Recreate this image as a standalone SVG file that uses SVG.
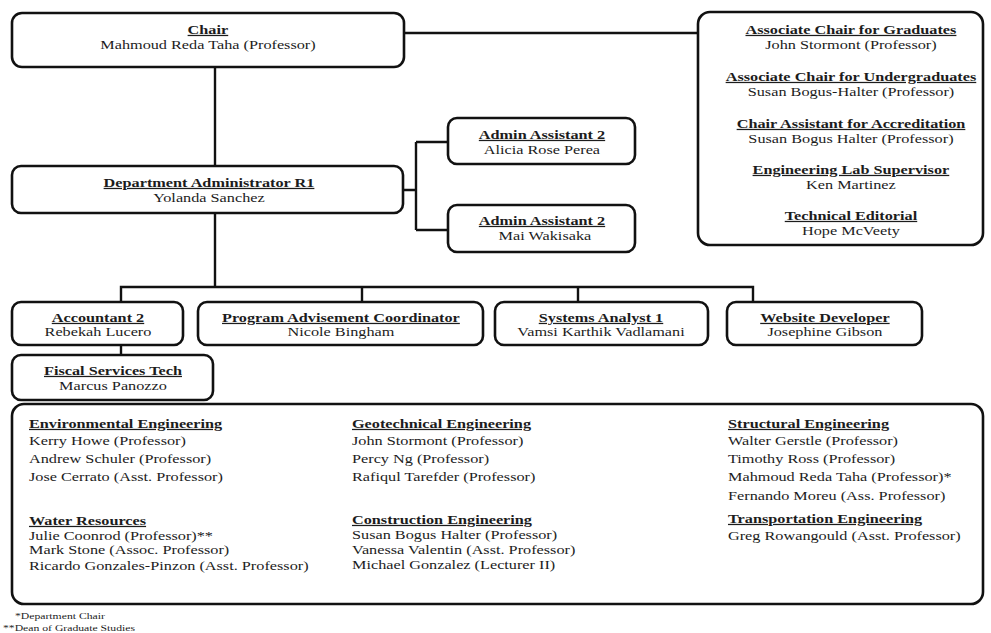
<svg xmlns="http://www.w3.org/2000/svg" width="991" height="633" viewBox="0 0 991 633">
<style>
  .box { fill: #ffffff; stroke: #111111; stroke-width: 2.6; }
  .conn { fill: none; stroke: #111111; stroke-width: 2.4; }
  .t { font-family: "Liberation Serif", "Times New Roman", serif; font-size: 12.5px; fill: #1c1c1c; transform-box: fill-box; transform: scaleX(1.3); }
  .c { text-anchor: middle; transform-origin: center; }
  .l { text-anchor: start; transform-origin: left; }
  .b { font-weight: bold; text-decoration: underline; }
  .fn { font-size: 9px; }
</style>
<rect x="0" y="0" width="991" height="633" fill="#ffffff"/>

<g id="connectors">
  <path class="conn" d="M404,33 H698"/>
  <path class="conn" d="M215,67 V166"/>
  <path class="conn" d="M403,190 H416 M416,142 V230 M416,142 H448 M416,230 H448"/>
  <path class="conn" d="M215,213 V287 M121,302 V287 H753 V302 M362,287 V302 M578,287 V302"/>
  <path class="conn" d="M121,345 V355"/>
</g>

<g id="chair">
  <rect class="box" x="12" y="13" width="392" height="54" rx="10"/>
  <text class="t c b" x="208" y="34">Chair</text>
  <text class="t c" x="208" y="49">Mahmoud Reda Taha (Professor)</text>
</g>

<g id="associates">
  <rect class="box" x="698" y="12" width="285" height="233" rx="12"/>
  <text class="t c b" x="851" y="34">Associate Chair for Graduates</text>
  <text class="t c" x="851" y="49">John Stormont (Professor)</text>
  <text class="t c b" x="851" y="81">Associate Chair for Undergraduates</text>
  <text class="t c" x="851" y="96">Susan Bogus-Halter (Professor)</text>
  <text class="t c b" x="851" y="128">Chair Assistant for Accreditation</text>
  <text class="t c" x="851" y="143">Susan Bogus Halter (Professor)</text>
  <text class="t c b" x="851" y="174">Engineering Lab Supervisor</text>
  <text class="t c" x="851" y="189">Ken Martinez</text>
  <text class="t c b" x="851" y="220">Technical Editorial</text>
  <text class="t c" x="851" y="235">Hope McVeety</text>
</g>

<g id="dept-admin">
  <rect class="box" x="12" y="166" width="391" height="47" rx="9"/>
  <text class="t c b" x="209" y="187">Department Administrator R1</text>
  <text class="t c" x="209" y="202">Yolanda Sanchez</text>
</g>

<g id="admin-assistant-1">
  <rect class="box" x="448" y="118" width="187" height="46" rx="9"/>
  <text class="t c b" x="542" y="139">Admin Assistant 2</text>
  <text class="t c" x="542" y="154">Alicia Rose Perea</text>
</g>

<g id="admin-assistant-2">
  <rect class="box" x="448" y="205" width="187" height="47" rx="9"/>
  <text class="t c b" x="542" y="225">Admin Assistant 2</text>
  <text class="t c" x="545" y="240">Mai Wakisaka</text>
</g>

<g id="accountant">
  <rect class="box" x="12" y="302" width="171" height="43" rx="9"/>
  <text class="t c b" x="98" y="322">Accountant 2</text>
  <text class="t c" x="98" y="336">Rebekah Lucero</text>
</g>

<g id="program-advisement">
  <rect class="box" x="198" y="302" width="285" height="43" rx="9"/>
  <text class="t c b" x="341" y="322">Program Advisement Coordinator</text>
  <text class="t c" x="341" y="336">Nicole Bingham</text>
</g>

<g id="systems-analyst">
  <rect class="box" x="495" y="302" width="213" height="43" rx="9"/>
  <text class="t c b" x="601" y="322">Systems Analyst 1</text>
  <text class="t c" x="601" y="336">Vamsi Karthik Vadlamani</text>
</g>

<g id="website-developer">
  <rect class="box" x="727" y="302" width="195" height="43" rx="9"/>
  <text class="t c b" x="825" y="322">Website Developer</text>
  <text class="t c" x="825" y="336">Josephine Gibson</text>
</g>

<g id="fiscal-services">
  <rect class="box" x="12" y="355" width="201" height="45" rx="9"/>
  <text class="t c b" x="113" y="375">Fiscal Services Tech</text>
  <text class="t c" x="113" y="390">Marcus Panozzo</text>
</g>

<g id="faculty">
  <rect class="box" x="12" y="404" width="971" height="200" rx="12"/>
  <text class="t l b" x="29" y="428">Environmental Engineering</text>
  <text class="t l" x="29" y="445">Kerry Howe (Professor)</text>
  <text class="t l" x="29" y="463">Andrew Schuler (Professor)</text>
  <text class="t l" x="29" y="481">Jose Cerrato (Asst. Professor)</text>
  <text class="t l b" x="29" y="525">Water Resources</text>
  <text class="t l" x="29" y="540">Julie Coonrod (Professor)**</text>
  <text class="t l" x="29" y="554">Mark Stone (Assoc. Professor)</text>
  <text class="t l" x="29" y="570">Ricardo Gonzales-Pinzon (Asst. Professor)</text>

  <text class="t l b" x="352" y="428">Geotechnical Engineering</text>
  <text class="t l" x="352" y="445">John Stormont (Professor)</text>
  <text class="t l" x="352" y="463">Percy Ng (Professor)</text>
  <text class="t l" x="352" y="481">Rafiqul Tarefder (Professor)</text>
  <text class="t l b" x="352" y="524">Construction Engineering</text>
  <text class="t l" x="352" y="539">Susan Bogus Halter (Professor)</text>
  <text class="t l" x="352" y="554">Vanessa Valentin (Asst. Professor)</text>
  <text class="t l" x="352" y="569">Michael Gonzalez (Lecturer II)</text>

  <text class="t l b" x="728" y="428">Structural Engineering</text>
  <text class="t l" x="728" y="445">Walter Gerstle (Professor)</text>
  <text class="t l" x="728" y="463">Timothy Ross (Professor)</text>
  <text class="t l" x="728" y="481">Mahmoud Reda Taha (Professor)*</text>
  <text class="t l" x="728" y="500">Fernando Moreu (Ass. Professor)</text>
  <text class="t l b" x="728" y="523">Transportation Engineering</text>
  <text class="t l" x="728" y="540">Greg Rowangould (Asst. Professor)</text>
</g>

<g id="footnotes">
  <text class="t l fn" x="15" y="619">*Department Chair</text>
  <text class="t l fn" x="3" y="631">**Dean of Graduate Studies</text>
</g>
</svg>
